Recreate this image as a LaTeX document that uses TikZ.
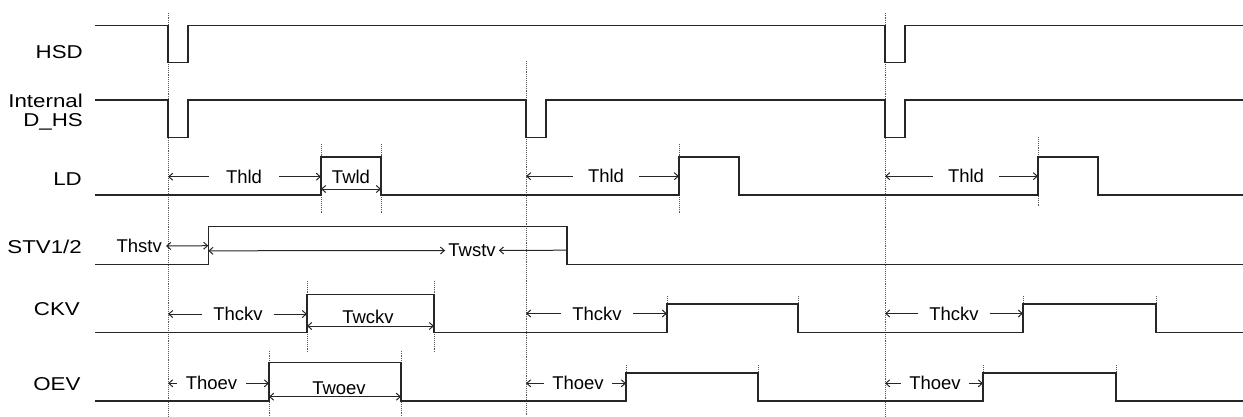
\documentclass[tikz,border=0pt]{standalone}
\usepackage{fontspec}
\usepackage{graphicx}
\setmainfont{Liberation Sans}
\usetikzlibrary{arrows.meta}
\newcommand{\wide}[1]{\scalebox{1.2}[1]{#1}}
\tikzset{
  sig/.style={line width=1.3pt,black!85},
  guide/.style={densely dotted,line width=0.9pt,black!65},
  sname/.style={anchor=base east,inner sep=0pt,font=\fontsize{18.6}{20}\selectfont},
  tname/.style={inner ysep=0pt,inner xsep=#1,font=\fontsize{18.5}{20}\selectfont},
  tname/.default=8pt,
  dim/.style={line width=1pt,black!85,>={Straight Barb[length=4pt,width=7pt]}},
}
\begin{document}
\begin{tikzpicture}[x=1pt,y=-1pt]
  \useasboundingbox (0,0) rectangle (1243,416);
  % signal names
  \node[sname] (hsd) at (83,58.3) {\wide{HSD}};
  \node[sname] (int) at (83,107) {\wide{Internal}};
  \node[sname] (dhs) at (83,126.7) {\wide{D\_HS}};
  \node[sname] (ld) at (82,185) {\wide{LD}};
  \node[sname] (stv) at (82,253.3) {\wide{STV1/2}};
  \node[sname] (ckv) at (80,315.7) {\wide{CKV}};
  \node[sname] (oev) at (80.7,390) {\wide{OEV}};
  % guide lines
  \draw[guide] (168,12.7)--(168,416);
  \draw[guide] (526,61)--(526,416);
  \draw[guide] (885,12.7)--(885,416);
  \draw[guide] (321,144)--(321,213);
  \draw[guide] (381,144)--(381,213);
  \draw[guide] (679,144)--(679,213);
  \draw[guide] (1038,137)--(1038,207);
  \draw[guide] (307,281)--(307,351.7);
  \draw[guide] (434,281)--(434,351.7);
  \draw[guide] (269,350.7)--(269,416);
  \draw[guide] (401,350.7)--(401,416);
  \foreach \x in {667,798,1023,1156} \draw[guide] (\x,296)--(\x,332);
  \foreach \x in {626,758,983,1116} \draw[guide] (\x,365)--(\x,401);
  % waveforms
  \draw[sig] (95,25.7) -| (168,62.7) -| (188,25.7) -| (885,62.7) -| (905,25.7) -- (1243,25.7);
  \draw[sig] (95,100) -| (168,137.7) -| (188,100) -| (526,137.7) -| (546,100)
    -| (885,137.7) -| (905,100) -- (1243,100);
  \draw[sig] (95,195) -| (321,157) -| (381,195) -| (679,157) -| (739,195)
    -| (1038,157) -| (1098,195) -- (1243,195);
  \draw[sig] (95,264.3) -| (208.3,226.7) -| (567,264.3) -- (1243,264.3);
  \draw[sig] (95,332.3) -| (307,294.7) -| (434,332.3) -| (667,304) -| (798,332.3)
    -| (1023,304) -| (1156,332.3) -- (1243,332.3);
  \draw[sig] (95,401) -| (269,362.7) -| (401,401) -| (626,373) -| (758,401)
    -| (983,373) -| (1116,401) -- (1243,401);
  % timing marks
  \foreach \n/\x/\y in {ld1a/168/176.7, ld1b/321/176.7, ld2a/526/176.2, ld2b/679/176.2,
      ld3a/885/176.2, ld3b/1038/176.2, wld1a/321/189, wld1b/381/189,
      hst1a/208.3/245.7, wst1a/208.3/250.8, wst1b/567/250.2,
      ck1a/168/314, ck1b/307/314, ck2a/526/313.5, ck2b/667/313.5, ck3a/885/313.5, ck3b/1023/313.5,
      wck1a/307/326, wck1b/434/326,
      oe1a/168/383.3, oe1b/269/383.3, oe2a/526/383.3, oe2b/626/383.3, oe3a/885/383.3, oe3b/983/383.3,
      woe1a/269/396.7, woe1b/401/396.7}
    \coordinate (\n) at (\x,\y);
  \node[tname=17pt] (thld1) at (244,176.7) {Thld};
  \node[tname=15pt] (thld2) at (606,176.2) {Thld};
  \node[tname=15pt] (thld3) at (966,176.2) {Thld};
  \node[tname=0pt] (twld) at (351,177) {Twld};
  \node[tname=4pt,anchor=east] (thstv) at (166,246) {Thstv};
  \node[tname=3pt] (twstv) at (472,250.5) {Twstv};
  \node[tname=11pt] (thckv1) at (238,314) {Thckv};
  \node[tname=11pt] (thckv2) at (597,313.5) {Thckv};
  \node[tname=11pt] (thckv3) at (954,313.5) {Thckv};
  \node[tname=0pt] (twckv) at (368,316.7) {Twckv};
  \node[tname=9pt] (thoev1) at (211.5,383.3) {Thoev};
  \node[tname=8pt] (thoev2) at (578,383.3) {Thoev};
  \node[tname=8pt] (thoev3) at (935,383.3) {Thoev};
  \node[tname=0pt] (twoev) at (339,388) {Twoev};
  \draw[dim,<-] (ld1a) -- (thld1);  \draw[dim,->] (thld1) -- (ld1b);
  \draw[dim,<-] (ld2a) -- (thld2);  \draw[dim,->] (thld2) -- (ld2b);
  \draw[dim,<-] (ld3a) -- (thld3);  \draw[dim,->] (thld3) -- (ld3b);
  \draw[dim,<->] (wld1a) -- (wld1b);
  \draw[dim,<->] (thstv.east) -- (hst1a);
  \draw[dim,<->] (wst1a) -- (twstv);  \draw[dim,->] (wst1b) -- (twstv);
  \draw[dim,<-] (ck1a) -- (thckv1);  \draw[dim,->] (thckv1) -- (ck1b);
  \draw[dim,<-] (ck2a) -- (thckv2);  \draw[dim,->] (thckv2) -- (ck2b);
  \draw[dim,<-] (ck3a) -- (thckv3);  \draw[dim,->] (thckv3) -- (ck3b);
  \draw[dim,<->] (wck1a) -- (wck1b);
  \draw[dim,<-] (oe1a) -- (thoev1);  \draw[dim,->] (thoev1) -- (oe1b);
  \draw[dim,<-] (oe2a) -- (thoev2);  \draw[dim,->] (thoev2) -- (oe2b);
  \draw[dim,<-] (oe3a) -- (thoev3);  \draw[dim,->] (thoev3) -- (oe3b);
  \draw[dim,<->] (woe1a) -- (woe1b);
\end{tikzpicture}
\end{document}
